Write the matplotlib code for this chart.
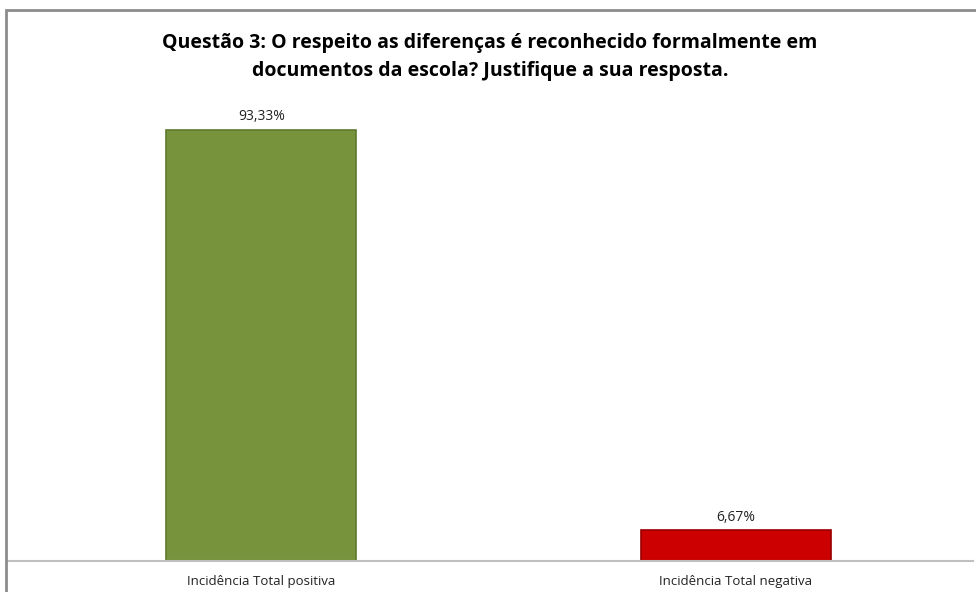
import matplotlib.pyplot as plt
from matplotlib.patches import Rectangle

categories = ['Incidência Total positiva', 'Incidência Total negativa']
values = [93.33, 6.67]
value_labels = ['93,33%', '6,67%']
colors = ['#77933C', '#CC0000']
edges = ['#5E7A2C', '#9A0000']

fig = plt.figure(figsize=(9.76, 5.92), dpi=100)
fig.patches.append(Rectangle((6 / 976, -0.1), 1.2, (592 - 10) / 592 + 0.1,
                             transform=fig.transFigure, fill=False,
                             edgecolor='#8C8C8C', linewidth=2))

ax = fig.add_axes([24 / 976, 31 / 592, 949 / 976, (561 - 99) / 592])
x = range(len(categories))
ax.bar(x, values, width=0.4, color=colors, edgecolor=edges, linewidth=1.2)
ax.set_xlim(-0.5, 1.5)
ax.set_ylim(0, 100)

for s in ['top', 'left', 'right']:
    ax.spines[s].set_visible(False)
ax.spines['bottom'].set_color('#BFBFBF')
ax.spines['bottom'].set_linewidth(1.5)
ax.spines['bottom'].set_bounds(-0.5 - 16 / 474.5, 1.5)
ax.set_yticks([])
ax.set_xticks(list(x))
ax.set_xticklabels(categories, fontsize=9.5, family='Open Sans', color='#222222')
ax.tick_params(axis='x', length=0, pad=10)

for i, v in enumerate(values):
    ax.text(i, v + 1.2, value_labels[i], ha='center', va='bottom',
            fontsize=10, family='Open Sans', color='#222222')

fig.text(490 / 976, 1 - 57 / 592,
         'Questão 3: O respeito as diferenças é reconhecido formalmente em\n'
         'documentos da escola? Justifique a sua resposta.',
         ha='center', va='center', fontsize=14, fontweight='bold',
         family='Open Sans', linespacing=1.5)

fig.savefig('out.png', dpi=100)
